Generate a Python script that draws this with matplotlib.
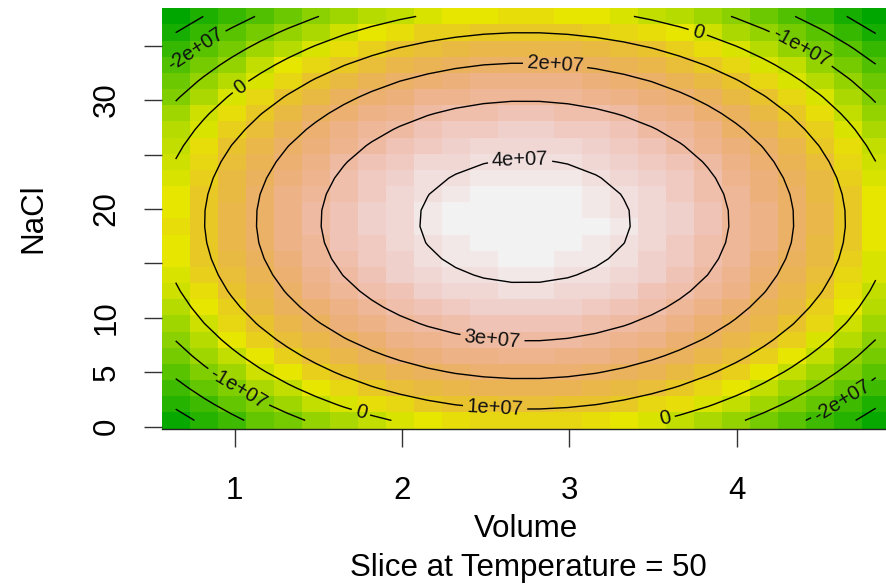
import colorsys
import numpy as np
import matplotlib
matplotlib.use("Agg")
import matplotlib.pyplot as plt
from matplotlib.colors import ListedColormap, BoundaryNorm

plt.rcParams.update({
    "font.family": ["Liberation Sans", "DejaVu Sans"],
    "font.size":   22.5,
})

# fitted second-order surface, slice at Temperature = 50 (vertex form)
PEAK_VALUE  = 4.37e7
VOLUME_PEAK = 2.736
NACL_PEAK   = 18.9
VOLUME_CURV = 9.18e6
NACL_CURV   = 1.126e5

# evaluation grid (rsm style, 26 x 26)
VOLUME_BOUNDS = (0.648, 4.832)
NACL_BOUNDS   = (0.58, 37.69)
GRID_N        = 26

LEVELS        = [-4e7, -3e7, -2e7, -1e7, 0, 1e7, 2e7, 3e7, 4e7]
X_TICKS       = [1, 2, 3, 4]
Y_TICKS       = [0, 5, 10, 15, 20, 25, 30, 35]
Y_TICK_LABELS = ["0", "5", "10", "", "20", "", "30", ""]

# where the contour labels sit (Volume, NaCl)
LABEL_SPOTS = [
    (2.706, 24.2), (2.54, 7.95), (2.915, 33.0), (2.557, 1.72),
    (1.05, 30.9), (3.77, 36.3), (1.75, 1.07), (3.57, 1.07),
    (0.79, 34.1), (4.38, 34.6), (0.99, 2.7), (4.62, 2.7),
]


def terrain_colors(n):
    # same as R's terrain.colors(n)
    k = n // 2
    cols = []
    for h, s, v in zip(np.linspace(4/12, 2/12, k), np.linspace(1, 1, k), np.linspace(0.65, 0.9, k)):
        cols.append(colorsys.hsv_to_rgb(h, s, v))
    m = n - k + 1
    for h, s, v in zip(np.linspace(2/12, 0, m)[1:], np.linspace(1, 0, m)[1:], np.linspace(0.9, 0.95, m)[1:]):
        cols.append(colorsys.hsv_to_rgb(h, s, v))
    return cols


def fmt(v):
    return "0" if v == 0 else f"{v:.0e}"


vol  = np.linspace(*VOLUME_BOUNDS, GRID_N)
nacl = np.linspace(*NACL_BOUNDS, GRID_N)
V, N = np.meshgrid(vol, nacl)
Z = PEAK_VALUE - VOLUME_CURV * (V - VOLUME_PEAK) ** 2 - NACL_CURV * (N - NACL_PEAK) ** 2

cmap = ListedColormap(terrain_colors(50))
norm = BoundaryNorm(np.linspace(Z.min(), Z.max(), 51), 50)

fig = plt.figure(figsize=(8.87, 5.87), dpi=100)
ax = fig.add_axes([161.7/887, (587-428.5)/587, (889.7-161.7)/887, (428.5-8.3)/587])

ax.pcolormesh(vol, nacl, Z, cmap=cmap, norm=norm, shading="nearest")
cs = ax.contour(vol, nacl, Z, levels=LEVELS, colors="black", linewidths=1.0,
                negative_linestyles="solid")
ax.clabel(cs, levels=LEVELS, fmt=fmt, fontsize=14.5, inline=True, inline_spacing=4,
          manual=LABEL_SPOTS, colors="#111111")

hx = (vol[1] - vol[0]) / 2
hy = (nacl[1] - nacl[0]) / 2
ax.set_xlim(vol[0] - hx, vol[-1] + hx)
ax.set_ylim(nacl[0] - hy, nacl[-1] + hy)

for side in ["left", "top", "right"]:
    ax.spines[side].set_visible(False)
ax.spines["bottom"].set_linewidth(1.0)
ax.spines["bottom"].set_color("#222222")

ax.set_xticks(X_TICKS)
ax.set_yticks(Y_TICKS)
ax.set_yticklabels(Y_TICK_LABELS)
ax.tick_params(axis="both", direction="out", length=13, width=1.0, color="#333333")
ax.tick_params(axis="x", pad=21)
ax.tick_params(axis="y", pad=16, labelrotation=90)
plt.setp(ax.get_yticklabels(), va="center")

ax.set_xlabel("Volume", labelpad=6)
ax.set_ylabel("NaCl", labelpad=31)
fig.text(528.5/887, 1 - 568/587, "Slice at Temperature = 50", ha="center", va="center")

fig.savefig("out.png", dpi=100)
